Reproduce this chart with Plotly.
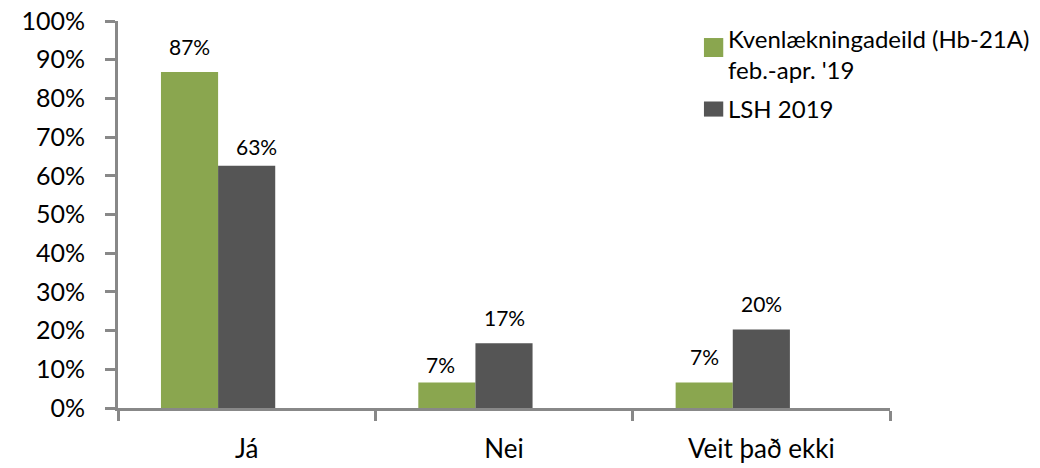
import plotly.graph_objects as go

categories = ["Já", "Nei", "Veit það ekki"]
series_names = ["Kvenlækningadeild (Hb-21A)<br>feb.-apr. '19", "LSH 2019"]
kvenn_values = [0.868, 0.066, 0.066]
lsh_values = [0.626, 0.167, 0.203]
y_tickvals = [i / 10 for i in range(11)]
y_ticktext = [f"{i * 10}%" for i in range(11)]

GREEN = "#8aa64f"
DARK = "#555555"
AXIS = "#888888"
FONT = "Lato, Carlito, Calibri, sans-serif"

# Excel left a third (empty) slot in each group, so bars sit left of the label
BAR_W = 0.222
fig = go.Figure()
for name, vals, color, off in [(series_names[0], kvenn_values, GREEN, -1.5 * BAR_W),
                               (series_names[1], lsh_values, DARK, -0.5 * BAR_W)]:
    fig.add_trace(go.Bar(x=categories, y=vals, name=name, marker_color=color,
                         marker_line_width=0, showlegend=False,
                         width=BAR_W, offset=off))

# data labels above bars; a couple were nudged by hand in the original
# key = (series index, category index) -> (dx, dy) in px
bar_px = 57
nudges = {(1, 0): (10, -6), (0, 1): (-7, -8)}
for s, (vals, shift) in enumerate([(kvenn_values, -bar_px), (lsh_values, 0)]):
    for i, (cat, v) in enumerate(zip(categories, vals)):
        dx, dy = nudges.get((s, i), (0, 0))
        fig.add_annotation(x=cat, y=v, text=f"{v:.0%}", showarrow=False,
                           xshift=shift + dx, yshift=11 + dy, yanchor="bottom",
                           font=dict(size=21, color="#000000", family=FONT))

# Excel-style legend: big squares with wrapped text beside them
legend_rows = [(series_names[0], GREEN, 0.907, 0.956, 0.915),
               (series_names[1], DARK, 0.753, 0.792, 0.773)]
for text, color, y0, y1, ytext in legend_rows:
    fig.add_shape(type="rect", xref="paper", yref="paper",
                  x0=0.759, x1=0.784, y0=y0, y1=y1,
                  fillcolor=color, line_width=0)
    fig.add_annotation(xref="paper", yref="paper", x=0.787, y=ytext,
                       text=text, showarrow=False, xanchor="left", yanchor="middle",
                       align="left", font=dict(size=24, color="#000000", family=FONT))

fig.update_layout(
    width=1040, height=468,
    margin=dict(l=118, r=150, t=21, b=60),
    paper_bgcolor="white", plot_bgcolor="white",
    barmode="overlay",
    font=dict(family=FONT, color="#000000"),
    showlegend=False,
)
fig.update_xaxes(
    showline=True, linecolor=AXIS, linewidth=3, automargin=False,
    ticks="outside", tickson="boundaries", ticklen=10, tickwidth=3, tickcolor=AXIS,
    tickfont=dict(size=26, family=FONT), showgrid=False, ticklabelstandoff=16,
)
fig.update_yaxes(
    range=[0, 1], tickvals=y_tickvals, ticktext=y_ticktext, automargin=False,
    showline=True, linecolor=AXIS, linewidth=3, ticklabeloverflow="allow",
    ticks="outside", ticklen=10, tickwidth=3, tickcolor=AXIS,
    tickfont=dict(size=25, family=FONT), showgrid=False, zeroline=False,
    ticklabelstandoff=15,
)

# drop the default page margin so the figure fills the window exactly
fig.write_html("out.html", config={"displayModeBar": False},
               post_script="document.body.style.margin = '0';")
